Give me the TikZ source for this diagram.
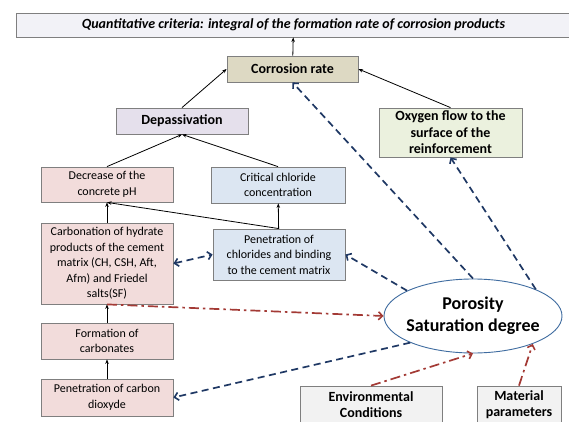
\documentclass[tikz,border=0pt]{standalone}
\usepackage{fontspec}
\setmainfont{Carlito}
\usetikzlibrary{arrows.meta,shapes.geometric}

\definecolor{edgegray}{HTML}{7F7F7F}
\definecolor{topfill}{HTML}{F2F2F7}
\definecolor{tanfill}{HTML}{DDD9C3}
\definecolor{lilacfill}{HTML}{E5E0EC}
\definecolor{greenfill}{HTML}{EBF1DE}
\definecolor{pinkfill}{HTML}{F2DCDB}
\definecolor{bluefill}{HTML}{DCE6F2}
\definecolor{grayfill}{HTML}{F2F2F2}
\definecolor{navy}{HTML}{1F3864}
\definecolor{brickred}{HTML}{A33A35}
\definecolor{ellblue}{HTML}{3F6CA0}

\tikzset{
  box/.style={draw=edgegray, line width=0.8pt, align=center, inner sep=1pt,
    font=\fontsize{12}{15.5}\selectfont},
  boldbox/.style={box, font=\fontsize{14}{16.5}\selectfont\bfseries},
  tip/.style={-{Stealth[length=4.5pt,width=3.5pt]}, line width=0.8pt},
  bluedash/.style={-{Straight Barb[length=4pt,width=8pt,line width=1.6pt]},
    draw=navy, line width=1.7pt, dash pattern=on 7pt off 4.5pt},
  reddash/.style={-{Straight Barb[length=4pt,width=8pt,line width=1.6pt]},
    draw=brickred, line width=1.7pt, dash pattern=on 10pt off 4pt on 2.5pt off 4pt}
}

\begin{document}
\begin{tikzpicture}[x=1pt,y=-1pt]
\useasboundingbox (0,0) rectangle (569,422);

% top level
\node[box, fill=topfill, minimum width=555pt, minimum height=24pt,
  font=\fontsize{14}{16}\selectfont\bfseries\itshape] (goal) at (293.5,25)
  {Quantitative criteria: integral of the formation rate of corrosion products};
\node[boldbox, fill=tanfill, minimum width=131pt, minimum height=26pt] (corr) at (292.5,69) {Corrosion rate};
\node[boldbox, fill=lilacfill, minimum width=132pt, minimum height=26pt] (dep) at (182,121) {Depassivation};
\node[boldbox, fill=greenfill, minimum width=143pt, minimum height=49pt] (oxy) at (450.5,132.5)
  {Oxygen flow to the\\surface of the\\reinforcement};

% carbonation side
\node[box, fill=pinkfill, minimum width=132pt, minimum height=35pt] (ph) at (107,184.5) {Decrease of the\\concrete pH};
\node[box, fill=pinkfill, minimum width=132pt, minimum height=81pt] (carb) at (107,263.5)
  {Carbonation of hydrate\\products of the cement\\matrix (CH, CSH, Aft,\\Afm) and Friedel\\salts(SF)};
\node[box, fill=pinkfill, minimum width=132pt, minimum height=36pt] (form) at (107,341) {Formation of\\carbonates};
\node[box, fill=pinkfill, minimum width=132pt, minimum height=37pt] (co2) at (107,397.5) {Penetration of carbon\\dioxyde};

% chloride side
\node[box, fill=bluefill, minimum width=134pt, minimum height=36pt] (clcrit) at (278,185) {Critical chloride\\concentration};
\node[box, fill=bluefill, minimum width=132pt, minimum height=51pt] (clpen) at (279,254.5)
  {Penetration of\\chlorides and binding\\to the cement matrix};

% porosity and inputs
\node[ellipse, draw=ellblue, line width=0.9pt, fill=white, minimum width=178pt, minimum height=74pt,
  align=center, inner ysep=0pt, inner xsep=-8pt, font=\fontsize{18}{22}\selectfont\bfseries] (poro) at (473,316)
  {Porosity\\Saturation degree};
\node[boldbox, fill=grayfill, minimum width=142pt, minimum height=37pt] (env) at (371,404.5) {Environmental\\Conditions};
\node[boldbox, fill=grayfill, minimum width=84pt, minimum height=37pt] (mat) at (519,404.5) {Material\\parameters};

% solid links
\draw[tip] (corr) -- (goal);
\draw[tip] (dep.north) -- (corr.west);
\draw[tip] (oxy.north) -- (corr.east);
\draw[tip] (ph.north) -- (dep.south);
\draw[tip] (clcrit.north) -- (dep.south);
\draw[tip] (carb) -- (ph);
\draw[tip] (clpen.north) -- (ph.south);
\draw[tip] (clpen) -- (clcrit);
\draw[tip] (form) -- (carb);
\draw[tip] (co2) -- (form);

% dashed influences
\draw[bluedash, {Straight Barb[length=4pt,width=8pt,line width=1.6pt]}-{Straight Barb[length=4pt,width=8pt,line width=1.6pt]}] (carb.east) -- (clpen.west);
\draw[bluedash] (poro.north) -- (corr.south);
\draw[bluedash] (poro.23) -- (oxy.south);
\draw[bluedash] (poro.159) -- (clpen.east);
\draw[bluedash] (poro.203) -- (co2.east);
\draw[reddash] (carb.south) -- (poro.west);
\draw[reddash] (env.north) -- (poro.south);
\draw[reddash] (mat.north) -- (poro.-25);
\end{tikzpicture}
\end{document}
